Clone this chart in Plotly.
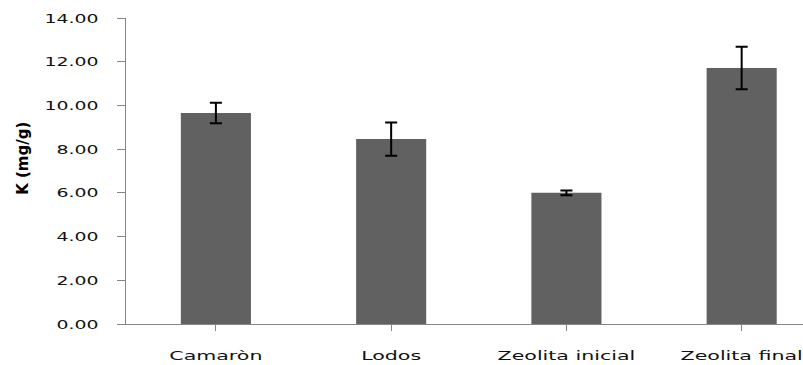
import plotly.graph_objects as go

# Potassium content per sample type
categories = ["Camaròn", "Lodos", "Zeolita inicial", "Zeolita final"]
k_values = [9.65, 8.46, 6.00, 11.71]
k_errors = [0.47, 0.76, 0.11, 0.97]
y_tick_values = [0, 2, 4, 6, 8, 10, 12, 14]
y_tick_labels = ["0.00", "2.00", "4.00", "6.00", "8.00", "10.00", "12.00", "14.00"]

AXIS_GREY = "#868686"
BAR_GREY = "#616161"
TEXT = "#111111"

fig = go.Figure(
    go.Bar(
        x=categories,
        y=k_values,
        width=0.40,
        marker=dict(color=BAR_GREY, line=dict(width=0)),
        error_y=dict(type="data", array=k_errors, visible=True,
                     color="#000000", thickness=2, width=6),
    )
)

fig.update_layout(
    width=803,
    height=365,
    margin=dict(l=126, r=0, t=18, b=41),
    paper_bgcolor="white",
    plot_bgcolor="white",
    showlegend=False,
    font=dict(family="DejaVu Sans", size=13, color=TEXT),
)

fig.update_xaxes(
    type="category",
    range=[-0.513, 3.35],
    showline=True, linecolor=AXIS_GREY, linewidth=1,
    ticks="outside", ticklen=6, tickcolor=AXIS_GREY, tickwidth=1,
    ticklabelstandoff=13,
    tickfont=dict(family="DejaVu Sans", size=13, color=TEXT),
    showgrid=False, zeroline=False,
)

fig.update_yaxes(
    range=[0, 14],
    tickvals=y_tick_values,
    ticktext=y_tick_labels,
    showline=True, linecolor=AXIS_GREY, linewidth=1,
    ticks="outside", ticklen=8, tickcolor=AXIS_GREY, tickwidth=1,
    ticklabelstandoff=16,
    tickfont=dict(family="DejaVu Sans", size=13, color=TEXT),
    showgrid=False, zeroline=False,
)

fig.add_annotation(
    text="<b>K (mg/g)</b>",
    xref="paper", yref="paper",
    x=-0.152, y=0.54,
    xanchor="center", yanchor="middle",
    textangle=-90, showarrow=False,
    font=dict(family="DejaVu Sans", size=15, color="#000000"),
)

# Widen the tick label glyphs (wide, stretched lettering)
stretch_js = """
var gd = document.getElementById('{plot_id}');
function widen(selector, factor) {
  gd.querySelectorAll(selector).forEach(function (t) {
    if (!t.dataset.baseWidth) {
      t.dataset.baseWidth = t.getComputedTextLength();
    }
    var w = parseFloat(t.dataset.baseWidth) * factor;
    t.setAttribute('textLength', w.toFixed(1));
    t.setAttribute('lengthAdjust', 'spacingAndGlyphs');
  });
}
function widenTicks() {
  widen('.xtick text', 1.58);
  widen('.ytick text', 1.45);
}
widenTicks();
gd.on('plotly_afterplot', widenTicks);
"""

fig.write_html("out.html", post_script=stretch_js)
